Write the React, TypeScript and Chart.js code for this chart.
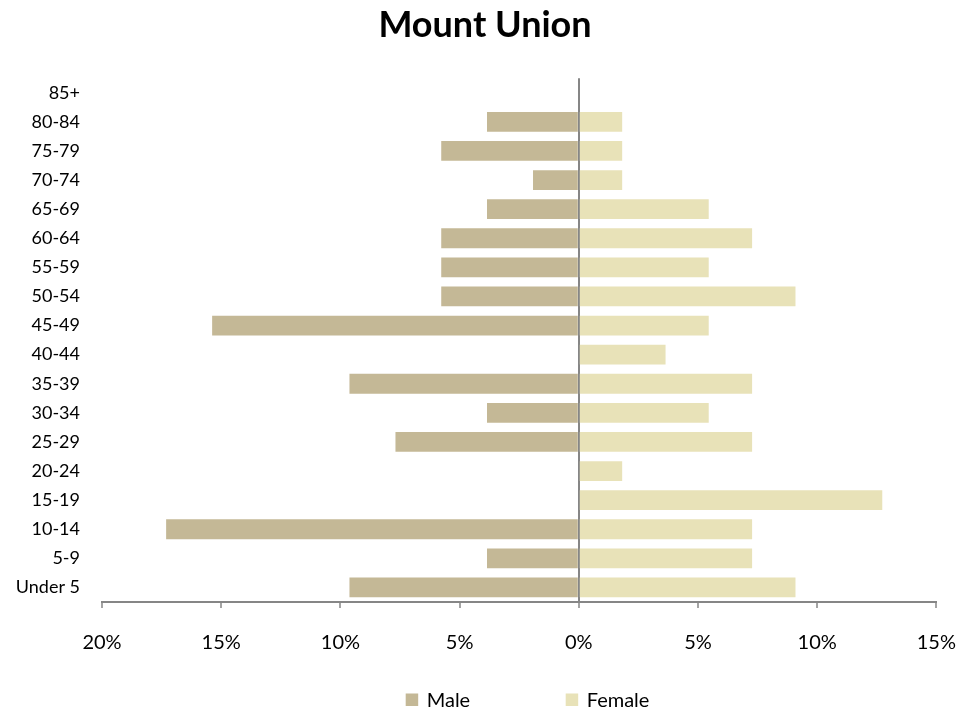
import React, { useEffect, useRef } from "react";
import { Chart, registerables } from "chart.js";

Chart.register(...registerables);

const categories = [
  "Under 5", "5-9", "10-14", "15-19", "20-24", "25-29", "30-34", "35-39",
  "40-44", "45-49", "50-54", "55-59", "60-64", "65-69", "70-74", "75-79",
  "80-84", "85+",
];

// percent of population (male shown on the left as negative)
const maleValues = [
  9.62, 3.85, 17.31, 0, 0, 7.69, 3.85, 9.62,
  0, 15.38, 5.77, 5.77, 5.77, 3.85, 1.92, 5.77,
  3.85, 0,
];

const femaleValues = [
  9.09, 7.27, 7.27, 12.73, 1.82, 7.27, 5.45, 7.27,
  3.64, 5.45, 9.09, 5.45, 7.27, 5.45, 1.82, 1.82,
  1.82, 0,
];

const xTicks = [-20, -15, -10, -5, 0, 5, 10, 15];

const seriesNames = ["Male", "Female"];
const seriesColors = ["#C4B896", "#E8E2B8"];

const FONT = "Lato, 'Open Sans', sans-serif";

const legendPlugin = {
  id: "bottomLegend",
  afterDraw(chart: any) {
    const { ctx, chartArea } = chart;
    const cx = (chartArea.left + chartArea.right) / 2;
    const starts = [cx - 113.5, cx + 46.5];
    const boxTop = chart.height - 19.5;
    const box = 12.5;
    ctx.save();
    ctx.font = `20px ${FONT}`;
    ctx.textBaseline = "alphabetic";
    ctx.textAlign = "left";
    seriesNames.forEach((name, i) => {
      ctx.fillStyle = seriesColors[i];
      ctx.fillRect(starts[i], boxTop, box, box);
      ctx.fillStyle = "#000000";
      ctx.fillText(name, starts[i] + box + 8.5, boxTop + box + 0.5);
    });
    ctx.restore();
  },
};

export default function App() {
  const canvasRef = useRef<HTMLCanvasElement | null>(null);

  useEffect(() => {
    document.body.style.margin = "0";
    const canvas = canvasRef.current;
    if (!canvas) return;
    const chart = new Chart(canvas, {
      type: "bar",
      data: {
        labels: categories,
        datasets: [
          {
            label: seriesNames[0],
            data: maleValues.map((v) => -v),
            backgroundColor: seriesColors[0],
            barPercentage: 0.68,
            categoryPercentage: 1,
          },
          {
            label: seriesNames[1],
            data: femaleValues,
            backgroundColor: seriesColors[1],
            barPercentage: 0.68,
            categoryPercentage: 1,
          },
        ],
      },
      options: {
        indexAxis: "y",
        responsive: false,
        animation: false,
        layout: { padding: { left: 0, right: 9, top: 0, bottom: 35 } },
        plugins: {
          legend: { display: false },
          tooltip: { enabled: false },
          title: {
            display: true,
            text: "Mount Union",
            color: "#000000",
            font: { family: FONT, size: 36, weight: "bold" },
            padding: { top: 4, bottom: 31 },
          },
        },
        scales: {
          x: {
            type: "linear",
            stacked: true,
            min: -20,
            max: 15,
            z: 1,
            afterBuildTicks: (scale: any) => {
              scale.ticks = xTicks.map((v) => ({ value: v }));
            },
            ticks: {
              callback: (v: any) => `${Math.abs(Number(v))}%`,
              color: "#000000",
              font: { family: FONT, size: 20 },
              padding: 23,
              maxRotation: 0,
            },
            grid: {
              drawOnChartArea: true,
              color: (c: any) =>
                c.tick && c.tick.value === 0 ? "#868686" : "rgba(0,0,0,0)",
              lineWidth: 2,
              tickColor: "#868686",
              tickLength: 6,
              tickWidth: 1.5,
            },
            border: { display: true, color: "#868686", width: 2 },
          },
          y: {
            type: "category",
            stacked: true,
            reverse: true,
            afterFit: (scale: any) => {
              scale.width = 102;
            },
            ticks: {
              color: "#000000",
              font: { family: FONT, size: 18 },
              padding: 22,
              autoSkip: false,
            },
            grid: { display: false, drawTicks: false },
            border: { display: false },
          },
          yRight: {
            type: "category",
            position: "right",
            display: true,
            afterFit: (scale: any) => {
              scale.width = 33;
            },
            ticks: { display: false },
            grid: { display: false, drawTicks: false },
            border: { display: false },
          },
        },
      },
      plugins: [legendPlugin],
    });
    return () => chart.destroy();
  }, []);

  return (
    <div style={{ width: 979, height: 713 }}>
      <canvas ref={canvasRef} width={979} height={713} style={{ display: "block" }} />
    </div>
  );
}
